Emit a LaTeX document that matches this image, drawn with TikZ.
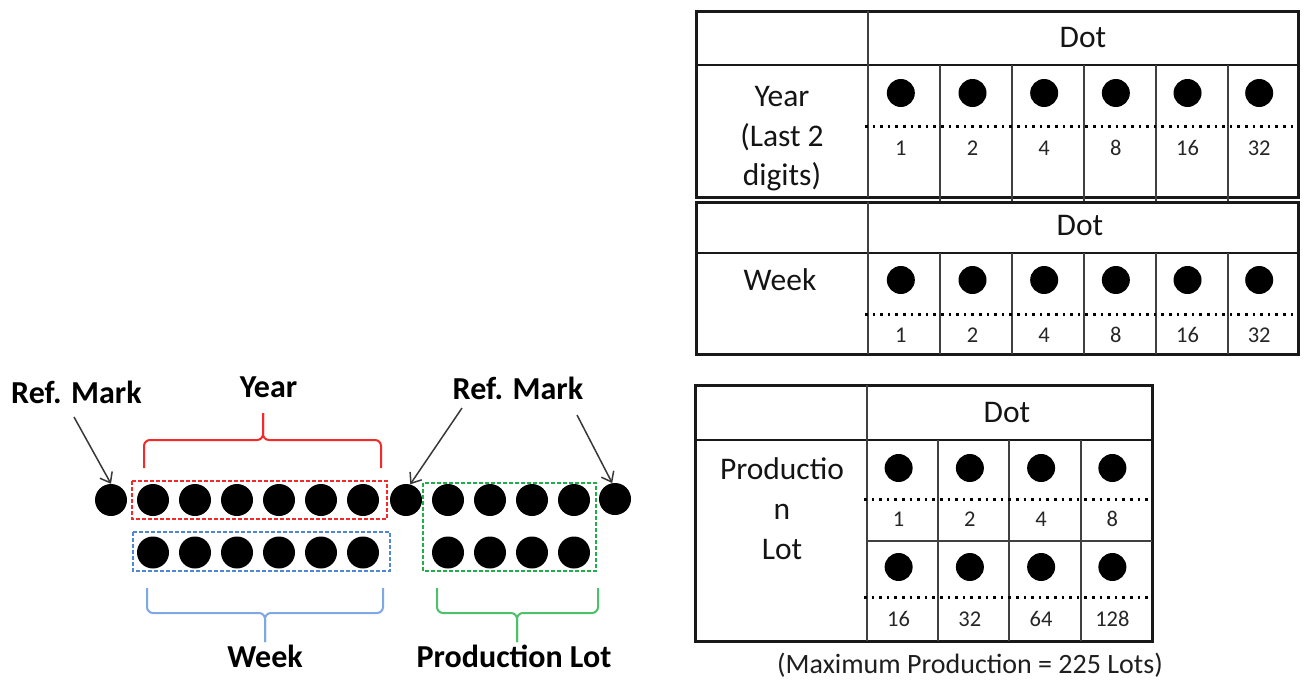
\documentclass[tikz,border=0pt]{standalone}
\usepackage{fontspec}
\setmainfont{Carlito}[Numbers=Lining]
\usetikzlibrary{arrows.meta}
\definecolor{mkred}{HTML}{F42A2A}
\definecolor{mkblue}{HTML}{4F86D6}
\definecolor{mkbluebr}{HTML}{7EA8E2}
\definecolor{mkgreen}{HTML}{22AD4C}
\definecolor{mkgreenbr}{HTML}{4CC06A}
\definecolor{arrowgray}{HTML}{383838}
\tikzset{
  bigdot/.style={circle,fill=black,inner sep=0pt,minimum size=32pt},
  tdot/.style={circle,fill=black,inner sep=0pt,minimum size=28pt},
  lbl/.style={font=\bfseries\fontsize{32}{36}\selectfont,anchor=base,inner sep=0pt},
  ttxt/.style={font=\fontsize{31.5}{39.5}\selectfont,inner sep=0pt,text=black!92},
  tline/.style={ttxt,anchor=base},
  tnum/.style={font=\fontsize{22.5}{26}\selectfont,inner sep=0pt,text=black!85},
  grpbox/.style={dash pattern=on 4pt off 2pt,line width=1.4pt},
  grpbrace/.style={line width=2pt,rounded corners=6pt},
  refarrow/.style={draw=arrowgray,line width=1.5pt,-{Straight Barb[length=9pt,width=14pt,line width=1.5pt]}},
  tblout/.style={line width=3pt,black!90},
  tblhead/.style={line width=2.6pt,black!90},
  tblin/.style={line width=1.8pt,black!75},
  dotline/.style={line width=3pt,dash pattern=on 2.6pt off 5pt,black}
}
\begin{document}
\begin{tikzpicture}[x=1pt,y=-1pt]
\useasboundingbox (0,0) rectangle (1306,683);

% ---------- dot strip ----------
\node[bigdot] (ref1) at (111,500) {};
\node[bigdot] (ref2) at (406,500) {};
\node[bigdot] (ref3) at (615,499) {};
\foreach \x [count=\i] in {153,195,237,279,321,363} {
  \node[bigdot] (yr\i) at (\x,500) {};
  \node[bigdot] (wk\i) at (\x,552.5) {};
}
\foreach \x [count=\i] in {448,490,532,574} {
  \node[bigdot] (lta\i) at (\x,500) {};
  \node[bigdot] (ltb\i) at (\x,552.5) {};
}

% group frames
\draw[grpbox,mkred]   (132,481) rectangle (387,519);
\draw[grpbox,mkblue]  (133,532) rectangle (390,571);
\draw[grpbox,mkgreen] (423,483) rectangle (596,571);

% braces
\draw[grpbrace,mkred] (144,468) -- (144,440) -- (263,440) -- (263,413);
\draw[grpbrace,mkred] (381,468) -- (381,440) -- (263,440) -- (263,413);
\draw[grpbrace,mkbluebr] (147,588) -- (147,613) -- (265,613) -- (265,642);
\draw[grpbrace,mkbluebr] (383,588) -- (383,613) -- (265,613) -- (265,642);
\draw[grpbrace,mkgreenbr] (437,588) -- (437,613) -- (517,613) -- (517,642);
\draw[grpbrace,mkgreenbr] (598,588) -- (598,613) -- (517,613) -- (517,642);

% labels
\node[lbl] (lref1) at (76.5,403) {Ref. Mark};
\node[lbl] (lyear) at (268.5,397) {Year};
\node[lbl] (lref2) at (518,399) {Ref. Mark};
\node[lbl] (lweek) at (265,667) {Week};
\node[lbl] (llot)  at (514,667) {Production Lot};

% reference arrows
\coordinate (a1) at (74,417);
\coordinate (a2) at (462,408);
\coordinate (a3) at (577,415);
\draw[refarrow] (a1) -- (ref1.north);
\draw[refarrow] (a2) -- (ref2.75);
\draw[refarrow] (a3) -- (ref3.100);

% ---------- table: year ----------
\draw[tblout] (696,11) rectangle (1298,197);
\draw[tblhead] (696,65) -- (1298,65);
\draw[tblin] (868,11) -- (868,197);
\foreach \x in {940,1012,1084,1156,1228} \draw[tblin] (\x,65) -- (\x,204);
\draw[dotline] (865,126) -- (1298,126);
\node[ttxt] (yhead) at (1083,38) {Dot};
\node[tline] (ylab1) at (782,106) {Year};
\node[tline] (ylab2) at (782,146) {(Last 2};
\node[tline] (ylab3) at (782,185) {digits)};
\foreach \v [count=\i, evaluate=\i as \cx using 868+71.67*(\i-0.5)-3] in {1,2,4,8,16,32} {
  \node[tdot] (ydot\i) at (\cx,93) {};
  \node[tnum] (ynum\i) at (\cx,148) {\v};
}

% ---------- table: week ----------
\draw[tblout] (696,202) rectangle (1298,354);
\draw[tblhead] (696,253) -- (1298,253);
\draw[tblin] (868,202) -- (868,354);
\foreach \x in {940,1012,1084,1156,1228} \draw[tblin] (\x,253) -- (\x,354);
\draw[dotline] (865,314) -- (1298,314);
\node[ttxt] (whead) at (1080,226) {Dot};
\node[tline] (wlab) at (780,290) {Week};
\foreach \v [count=\i, evaluate=\i as \cx using 868+71.67*(\i-0.5)-3] in {1,2,4,8,16,32} {
  \node[tdot] (wdot\i) at (\cx,280) {};
  \node[tnum] (wnum\i) at (\cx,335) {\v};
}

% ---------- table: production lot ----------
\draw[tblout] (695,385) rectangle (1152,641);
\draw[tblhead] (695,440) -- (1152,440);
\draw[tblin] (867,385) -- (867,641);
\foreach \x in {938,1009,1081} \draw[tblin] (\x,440) -- (\x,641);
\draw[tblin] (867,541) -- (1152,541);
\draw[dotline] (864,499) -- (1152,499);
\draw[dotline] (864,597) -- (1152,597);
\node[ttxt] (phead) at (1007,413) {Dot};
\node[tline] (plab1) at (782,479) {Productio};
\node[tline] (plab2) at (782,519) {n};
\node[tline] (plab3) at (782,559) {Lot};
\foreach \v [count=\i, evaluate=\i as \cx using 867+71.25*(\i-0.5)-4] in {1,2,4,8} {
  \node[tdot] (pdota\i) at (\cx,468) {};
  \node[tnum] (pnuma\i) at (\cx,519) {\v};
}
\foreach \v [count=\i, evaluate=\i as \cx using 867+71.25*(\i-0.5)-4] in {16,32,64,128} {
  \node[tdot] (pdotb\i) at (\cx,567) {};
  \node[tnum] (pnumb\i) at (\cx,619) {\v};
}
\node[font=\fontsize{28}{32}\selectfont,anchor=base,inner sep=0pt,text=black!88] (cap) at (970,673) {(Maximum Production = 225 Lots)};
\end{tikzpicture}
\end{document}
